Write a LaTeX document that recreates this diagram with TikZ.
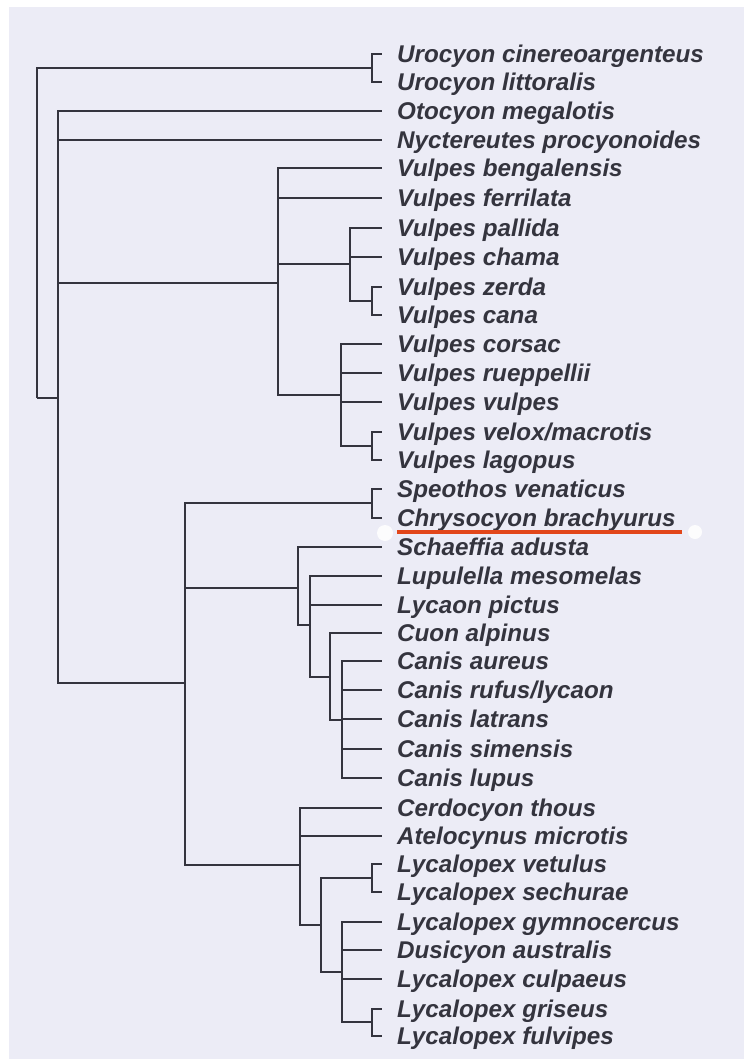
\documentclass[tikz,border=0pt]{standalone}
\usepackage{fontspec}
\setmainfont{Liberation Sans}
\usepackage{xcolor}
\usepackage{tikz}
\usetikzlibrary{calc}
\definecolor{paper}{HTML}{ECECF6}
\definecolor{ink}{HTML}{34343E}
\definecolor{hilite}{HTML}{E2461A}

\begin{document}
\begin{tikzpicture}[x=1pt,y=-1pt,
			branch/.style={draw=ink,line width=2.6pt},
			taxon/.style={anchor=west,inner xsep=15pt,inner ysep=0pt,text height=17pt,text depth=0pt,
				text=ink,font=\fontsize{24.2}{28}\selectfont\bfseries\itshape},
			]
			% 背景
			\fill[white] (0,0) rectangle (744,1059);
			\fill[paper] (9,7) rectangle (744,1059);
			\useasboundingbox (0,0) rectangle (744,1059);
			
			% 叶端
			\def\tip{382}
			\node[taxon] (ucin) at (\tip,54) {Urocyon cinereoargenteus};
			\node[taxon] (ulit) at (\tip,82) {Urocyon littoralis};
			\node[taxon] (omeg) at (\tip,111) {Otocyon megalotis};
			\node[taxon] (npro) at (\tip,140) {Nyctereutes procyonoides};
			\node[taxon] (vben) at (\tip,168) {Vulpes bengalensis};
			\node[taxon] (vfer) at (\tip,198) {Vulpes ferrilata};
			\node[taxon] (vpal) at (\tip,228) {Vulpes pallida};
			\node[taxon] (vcha) at (\tip,257) {Vulpes chama};
			\node[taxon] (vzer) at (\tip,287) {Vulpes zerda};
			\node[taxon] (vcan) at (\tip,315) {Vulpes cana};
			\node[taxon] (vcor) at (\tip,344) {Vulpes corsac};
			\node[taxon] (vrue) at (\tip,373) {Vulpes rueppellii};
			\node[taxon] (vvul) at (\tip,402) {Vulpes vulpes};
			\node[taxon] (vvel) at (\tip,432) {Vulpes velox/macrotis};
			\node[taxon] (vlag) at (\tip,460) {Vulpes lagopus};
			\node[taxon] (sven) at (\tip,489) {Speothos venaticus};
			\node[taxon] (cbra) at (\tip,518) {Chrysocyon brachyurus};
			\node[taxon] (sadu) at (\tip,547) {Schaeffia adusta};
			\node[taxon] (lmes) at (\tip,576) {Lupulella mesomelas};
			\node[taxon] (lpic) at (\tip,605) {Lycaon pictus};
			\node[taxon] (calp) at (\tip,633) {Cuon alpinus};
			\node[taxon] (caur) at (\tip,661) {Canis aureus};
			\node[taxon] (cruf) at (\tip,690) {Canis rufus/lycaon};
			\node[taxon] (clat) at (\tip,719) {Canis latrans};
			\node[taxon] (csim) at (\tip,749) {Canis simensis};
			\node[taxon] (clup) at (\tip,778) {Canis lupus};
			\node[taxon] (ctho) at (\tip,808) {Cerdocyon thous};
			\node[taxon] (amic) at (\tip,836) {Atelocynus microtis};
			\node[taxon] (lvet) at (\tip,864) {Lycalopex vetulus};
			\node[taxon] (lsec) at (\tip,892) {Lycalopex sechurae};
			\node[taxon] (lgym) at (\tip,922) {Lycalopex gymnocercus};
			\node[taxon] (daus) at (\tip,950) {Dusicyon australis};
			\node[taxon] (lcul) at (\tip,979) {Lycalopex culpaeus};
			\node[taxon] (lgri) at (\tip,1009) {Lycalopex griseus};
			\node[taxon] (lful) at (\tip,1036) {Lycalopex fulvipes};
			
			% 内部结点
			\coordinate (root) at (37,398);
			\coordinate (uro) at (372,68);
			\coordinate (core) at (58,398);
			\coordinate (vul) at (278,283);
			\coordinate (vpg) at (350,264);
			\coordinate (vzc) at (372,301);
			\coordinate (vcg) at (341,395);
			\coordinate (vvl) at (372,446);
			\coordinate (cani) at (185,683);
			\coordinate (spch) at (372,503);
			\coordinate (wolf) at (298,588);
			\coordinate (lupg) at (310,625);
			\coordinate (cuog) at (330,677);
			\coordinate (canis) at (342,720);
			\coordinate (sam) at (300,865);
			\coordinate (lycg) at (321,925);
			\coordinate (vs) at (372,878);
			\coordinate (lyc) at (342,972);
			\coordinate (gf) at (372,1022);
			
			% 分支
			\foreach \p/\c in {root/uro,root/core,uro/ucin,uro/ulit,
				core/omeg,core/npro,core/vul,core/cani,
				vul/vben,vul/vfer,vul/vpg,vul/vcg,
				vpg/vpal,vpg/vcha,vpg/vzc,vzc/vzer,vzc/vcan,
				vcg/vcor,vcg/vrue,vcg/vvul,vcg/vvl,vvl/vvel,vvl/vlag,
				cani/spch,cani/wolf,cani/sam,spch/sven,spch/cbra,
				wolf/sadu,wolf/lupg,lupg/lmes,lupg/lpic,lupg/cuog,
				cuog/calp,cuog/canis,
				canis/caur,canis/cruf,canis/clat,canis/csim,canis/clup,
				sam/ctho,sam/amic,sam/lycg,lycg/vs,lycg/lyc,vs/lvet,vs/lsec,
				lyc/lgym,lyc/daus,lyc/lcul,lyc/gf,gf/lgri,gf/lful}
			\draw[branch] (\p) |- (\c);
			
			% 标记
			\draw[hilite,line width=3.4pt] (397,532)--(682,532);
			\fill[white,opacity=0.85] (385,533) circle (8);
			\fill[white,opacity=0.85] (695,532) circle (7);
		\end{tikzpicture}
\end{document}
